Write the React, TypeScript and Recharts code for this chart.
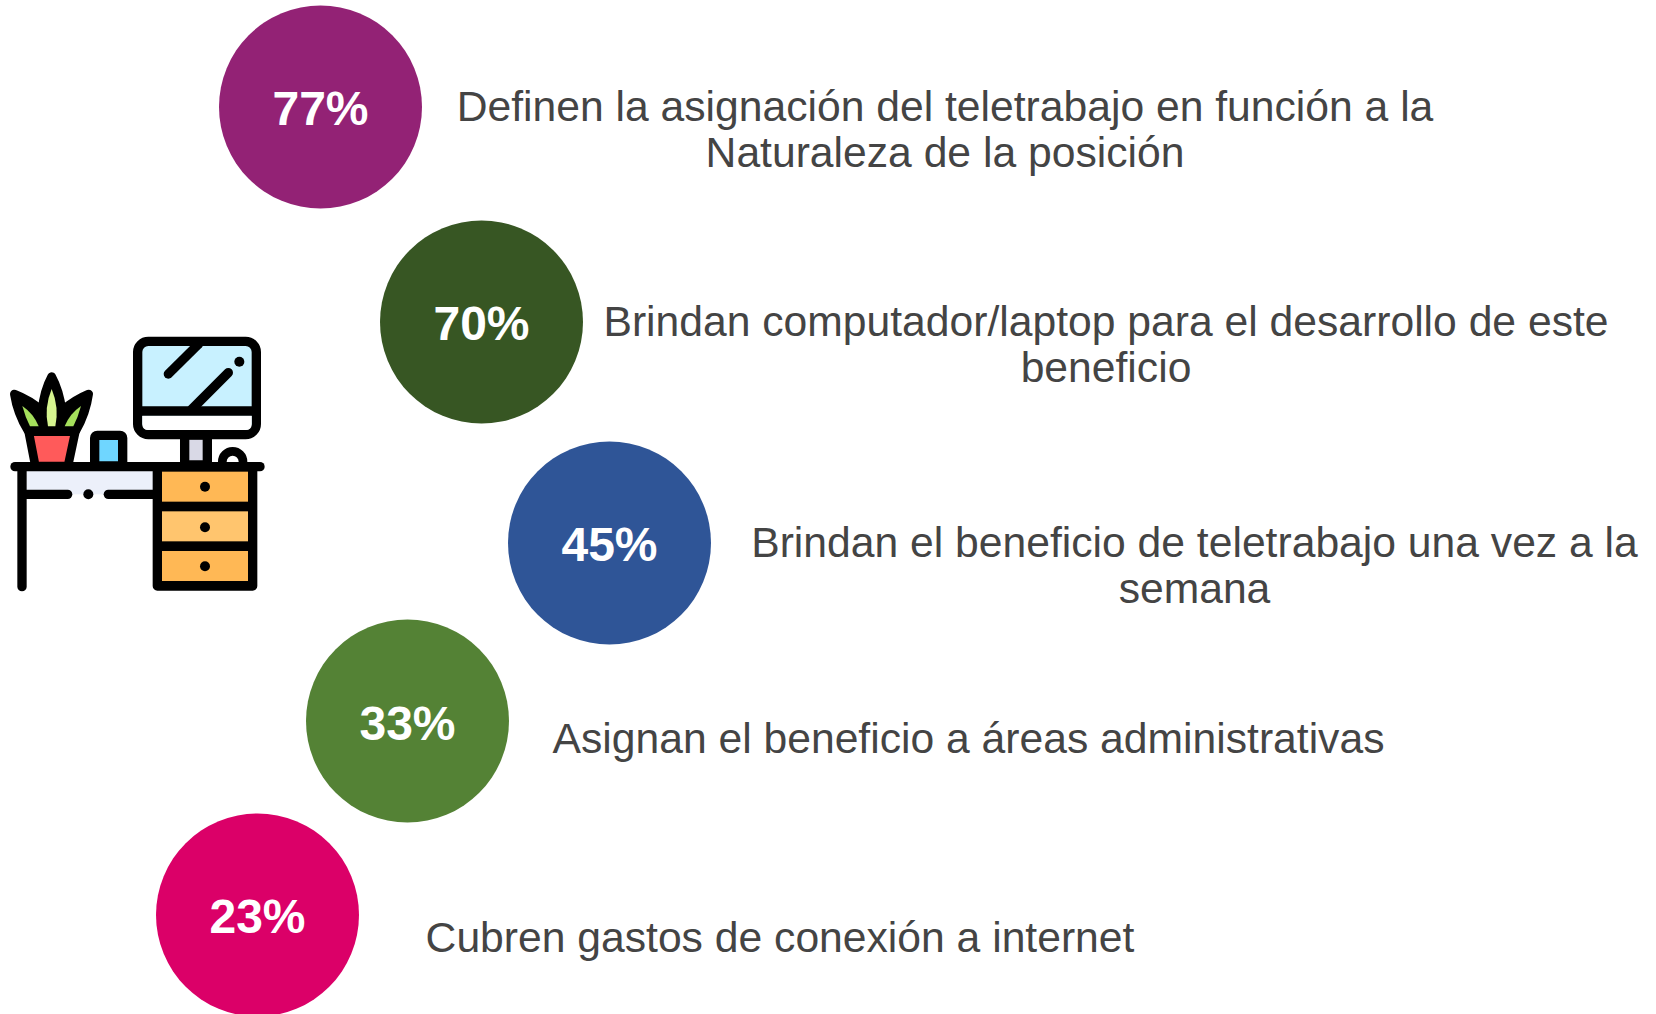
import React from 'react';
import { ScatterChart, Scatter, XAxis, YAxis, LabelList } from 'recharts';

const WIDTH = 1656;
const HEIGHT = 1014;

// Data
const percentages = [77, 70, 45, 33, 23];
const statements = [
  ['Definen la asignación del teletrabajo en función a la', 'Naturaleza de la posición'],
  ['Brindan computador/laptop para el desarrollo de este', 'beneficio'],
  ['Brindan el beneficio de teletrabajo una vez a la', 'semana'],
  ['Asignan el beneficio a áreas administrativas'],
  ['Cubren gastos de conexión a internet'],
];

// Infographic placement, in axis units (page pixels)
const circleX = [320.5, 481.5, 609.5, 407.5, 257.5];
const circleY = [107, 322, 543, 721, 915];
const labelNudge = [1.5, 1, 1.5, 2.5, 1.5];
const textX = [945, 1106, 1194.5, 968.5, 780];
const textY = [106, 321, 542, 738, 937];
const circleColors = ['#932275', '#375623', '#2F5597', '#548235', '#DB0068'];

const circleRows = percentages.map((value, i) => ({
  x: circleX[i],
  y: circleY[i],
  value,
  fill: circleColors[i],
}));
const textRows = statements.map((lines, i) => ({ x: textX[i], y: textY[i], lines }));

const FONT = '"Liberation Sans", Arial, sans-serif';
const RADIUS = 101.5;

const CircleShape = (props: any) => (
  <circle cx={props.cx} cy={props.cy} r={RADIUS} fill={props.payload.fill} />
);

const PercentLabel = (props: any) => {
  const { x, y, width, height, value, index } = props;
  return (
    <text
      x={x + (width || 0) / 2}
      y={y + (height || 0) / 2 + (labelNudge[index] ?? 1.5)}
      textAnchor="middle"
      dominantBaseline="central"
      fontFamily={FONT}
      fontWeight={700}
      fontSize={48}
      fill="#ffffff"
    >
      {value}%
    </text>
  );
};

const TextShape = (props: any) => {
  const { cx, cy, payload } = props;
  return (
    <text textAnchor="middle" fontFamily={FONT} fontSize={42.65} fill="#444444">
      {payload.lines.map((line: string, i: number) => (
        <tspan key={i} x={cx} y={cy + 15 + i * 46}>
          {line}
        </tspan>
      ))}
    </text>
  );
};

const DeskIcon = () => (
  <g transform="translate(0,320) scale(0.33333)" strokeLinecap="round" strokeLinejoin="round">
    {/* plant */}
    <path
      d="M84 332 Q52 280 43 222 Q90 240 126 272 Q132 212 155 170 Q178 212 186 272 Q222 240 266 222 Q258 280 228 332 Z"
      fill="#000"
      stroke="#000"
      strokeWidth={26}
    />
    <path d="M155 207 Q178 262 166 319 L144 319 Q132 262 155 207 Z" fill="#d6f58f" />
    <path d="M67 258 Q102 282 116 319 L90 319 Q76 292 67 258 Z" fill="#a5e05c" />
    <path d="M243 258 Q208 282 194 319 L220 319 Q234 292 243 258 Z" fill="#a5e05c" />
    <path d="M86 335 L226 335 L204 438 L106 438 Z" fill="#ff5a5a" stroke="#000" strokeWidth={26} />
    {/* cup */}
    <rect x={284} y={346} width={84} height={92} rx={8} fill="#6fd6ff" stroke="#000" strokeWidth={28} />
    {/* monitor stand */}
    <rect x={554} y={345} width={68} height={90} fill="#d9d9e6" stroke="#000" strokeWidth={28} />
    {/* cable loop */}
    <path d="M667 440 V425 A31 31 0 0 1 729 425 V440" fill="#fff" stroke="#000" strokeWidth={26} />
    {/* monitor */}
    <rect x={413} y={64} width={356} height={280} rx={32} fill="#c8f1ff" stroke="#000" strokeWidth={28} />
    <path d="M427 287 H755 V312 Q755 330 737 330 H445 Q427 330 427 312 Z" fill="#fff" />
    <path d="M413 273 H769" stroke="#000" strokeWidth={28} />
    <path d="M505 162 L596 72" stroke="#000" strokeWidth={28} />
    <path d="M575 268 L685 158" stroke="#000" strokeWidth={28} />
    <circle cx={718} cy={125} r={15} fill="#000" />
    {/* desk */}
    <rect x={80} y={453} width={385} height={70} fill="#ecf0fa" />
    <path d="M45 440 H780" stroke="#000" strokeWidth={28} />
    <path d="M66 440 V800" stroke="#000" strokeWidth={28} />
    <path d="M80 523 H203" stroke="#000" strokeWidth={28} />
    <circle cx={265} cy={523} r={15} fill="#000" />
    <path d="M325 523 H470" stroke="#000" strokeWidth={28} />
    {/* drawers */}
    <rect x={472} y={441} width={286} height={357} fill="#000" stroke="#000" strokeWidth={28} />
    <rect x={486} y={455} width={258} height={90} fill="#ffb855" />
    <rect x={486} y={574} width={258} height={90} fill="#ffc56e" />
    <rect x={486} y={693} width={258} height={90} fill="#ffb855" />
    <circle cx={615} cy={500} r={15} fill="#000" />
    <circle cx={615} cy={622} r={15} fill="#000" />
    <circle cx={615} cy={739} r={15} fill="#000" />
  </g>
);

export default function App() {
  return (
    <div style={{ position: 'absolute', left: 0, top: 0, width: WIDTH, height: HEIGHT, overflow: 'hidden', background: '#fff' }}>
      <ScatterChart width={WIDTH} height={HEIGHT} margin={{ top: 0, right: 0, bottom: 0, left: 0 }}>
        <XAxis type="number" dataKey="x" domain={[0, WIDTH]} hide allowDataOverflow />
        <YAxis type="number" dataKey="y" domain={[0, HEIGHT]} reversed hide allowDataOverflow />
        <DeskIcon />
        <Scatter data={circleRows} dataKey="value" shape={CircleShape} isAnimationActive={false}>
          <LabelList dataKey="value" content={PercentLabel} />
        </Scatter>
        <Scatter data={textRows} shape={TextShape} isAnimationActive={false} />
      </ScatterChart>
    </div>
  );
}
